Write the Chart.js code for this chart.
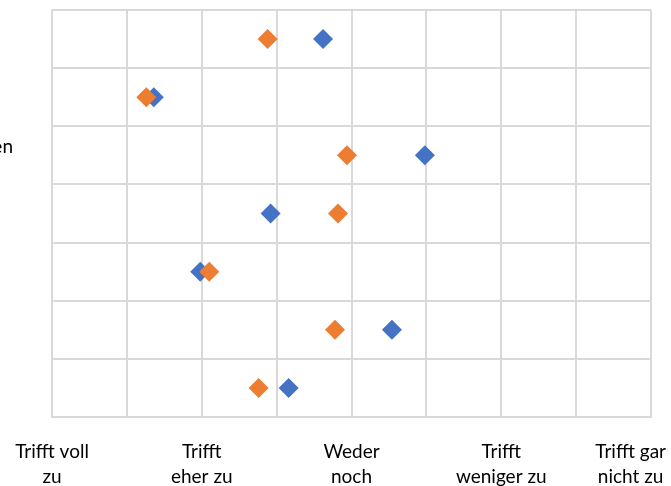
<!DOCTYPE html>
<html>
<head>
<meta charset="utf-8">
<script src="https://cdn.jsdelivr.net/npm/chart.js@4.4.1/dist/chart.umd.min.js"></script>
<style>
  html, body { margin: 0; padding: 0; background: #ffffff; }
  #wrap { width: 671px; height: 486px; position: relative; }
</style>
</head>
<body>
<div id="wrap"><canvas id="c" width="671" height="486"></canvas></div>
<script>
// Answer scale (1 = Trifft voll zu ... 5 = Trifft gar nicht zu)
const scaleValues = [1, 2, 3, 4, 5];
const scaleLabels = [
  ['Trifft voll', 'zu'],
  ['Trifft', 'eher zu'],
  ['Weder', 'noch'],
  ['Trifft', 'weniger zu'],
  ['Trifft gar', 'nicht zu']
];

// Row positions (one row per statement) and the row captions
const rows = [0.5, 1.5, 2.5, 3.5, 4.5, 5.5, 6.5];
const rowLabels = ['', '', 'en', '', '', '', ''];

// Mean answers per statement
const blueValues   = [2.81, 1.68, 3.49, 2.46, 1.99, 3.27, 2.58];
const orangeValues = [2.44, 1.63, 2.97, 2.91, 2.05, 2.89, 2.38];

const FONT = '19px Lato, "Liberation Sans", sans-serif';
const GRID = '#d9d9d9';

const toPoints = vals => vals.map((v, i) => ({ x: v, y: rows[i] }));

const labelPlugin = {
  id: 'answerLabels',
  afterDraw(chart) {
    const ctx = chart.ctx;
    const xs = chart.scales.x;
    const ys = chart.scales.y;
    ctx.save();
    ctx.font = FONT;
    ctx.fillStyle = '#000000';
    ctx.textAlign = 'center';
    ctx.textBaseline = 'middle';
    scaleValues.forEach((v, i) => {
      const lines = scaleLabels[i];
      const half = Math.max(...lines.map(l => ctx.measureText(l).width)) / 2;
      let cx = xs.getPixelForValue(v);
      cx = Math.min(cx, chart.width - half - 5);
      lines.forEach((l, k) => ctx.fillText(l, cx, 452 + k * 25));
    });
    ctx.textAlign = 'right';
    rowLabels.forEach((l, i) => {
      if (!l) return;
      ctx.fillText(l, 13, ys.getPixelForValue(rows[i]) - 8);
    });
    ctx.restore();
  }
};

new Chart(document.getElementById('c'), {
  type: 'scatter',
  data: {
    datasets: [
      {
        label: 'Blau',
        data: toPoints(blueValues),
        order: 1,
        pointStyle: 'rectRot',
        pointRadius: 10,
        pointHoverRadius: 10,
        pointBorderWidth: 0,
        backgroundColor: '#4472c4',
        borderColor: '#4472c4'
      },
      {
        label: 'Orange',
        data: toPoints(orangeValues),
        order: 0,
        pointStyle: 'rectRot',
        pointRadius: 10,
        pointHoverRadius: 10,
        pointBorderWidth: 0,
        backgroundColor: '#ed7d31',
        borderColor: '#ed7d31'
      }
    ]
  },
  options: {
    responsive: false,
    animation: false,
    layout: { padding: { top: 6, right: 20, left: 0, bottom: 0 } },
    plugins: { legend: { display: false }, tooltip: { enabled: false } },
    scales: {
      x: {
        type: 'linear',
        min: 1,
        max: 5,
        ticks: { stepSize: 0.5, display: false },
        grid: { color: GRID, lineWidth: 2, drawTicks: false },
        border: { color: GRID, width: 2 },
        afterFit(s) { s.height = 69; }
      },
      y: {
        type: 'linear',
        min: 0,
        max: 7,
        reverse: true,
        ticks: { stepSize: 1, display: false },
        grid: { color: GRID, lineWidth: 2, drawTicks: false },
        border: { color: GRID, width: 2 },
        afterFit(s) { s.width = 52; }
      }
    }
  },
  plugins: [labelPlugin]
});
</script>
</body>
</html>
